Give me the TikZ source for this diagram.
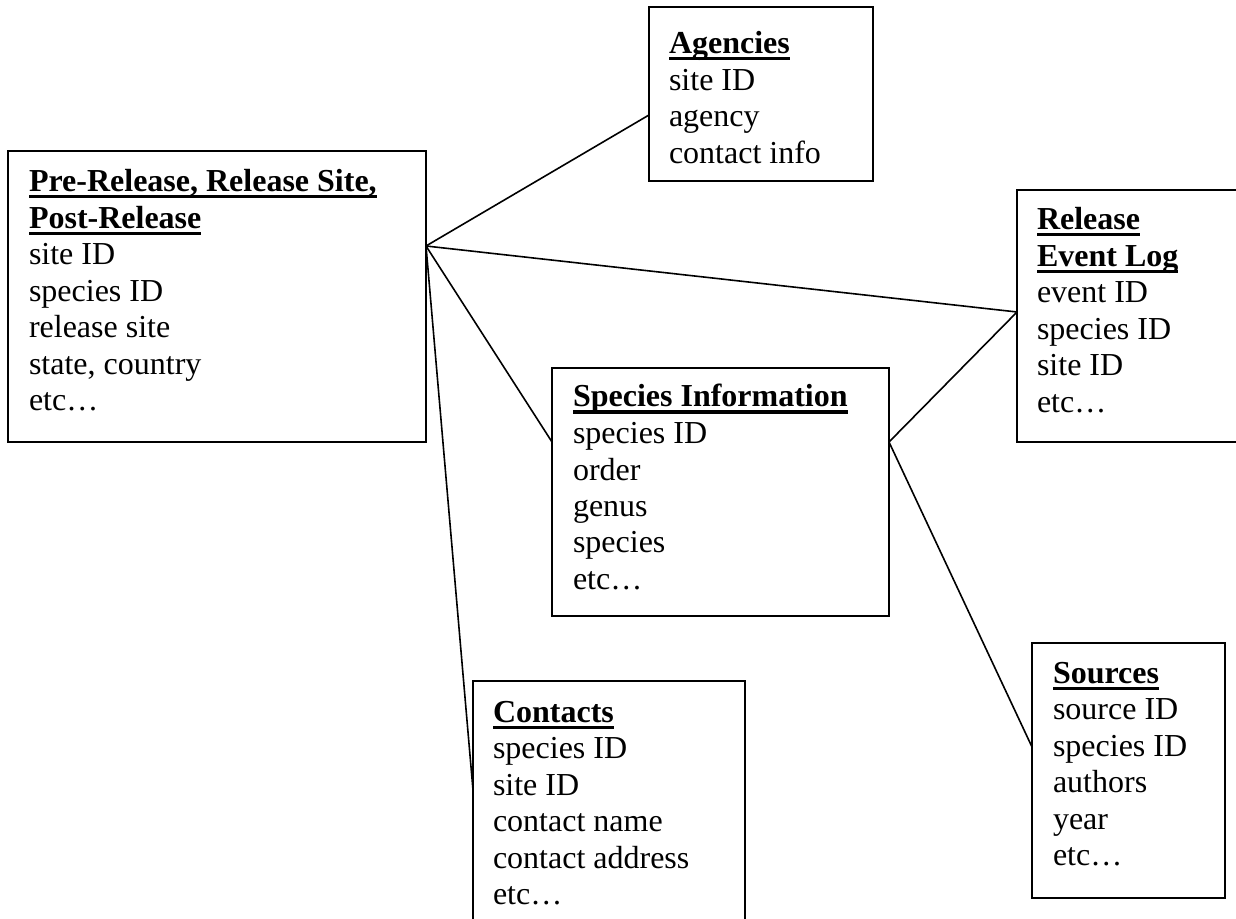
\documentclass[tikz,border=0pt]{standalone}
\usepackage{fontspec}
\setmainfont{Liberation Serif}
\usetikzlibrary{calc}
\newcommand\ulbf[1]{\setbox0\hbox{\bfseries #1}\rlap{\vrule height -1.75pt depth 3.25pt width \wd0}\box0}
\tikzset{
  box/.style={draw, line width=1pt, inner sep=0pt, outer sep=0pt, anchor=north west},
  txt/.style={anchor=base west, inner sep=0pt, outer sep=0pt, align=left, font=\fontsize{16pt}{18.25pt}\selectfont},
  link/.style={line width=0.8pt}
}
\begin{document}
\begin{tikzpicture}[x=0.5pt,y=-0.5pt]
\useasboundingbox (0,0) rectangle (1236,919);
\fill[white] (0,0) rectangle (1236,919);
% boxes
\node[box, minimum width=209pt, minimum height=145.5pt] (pre) at (8,151) {};
\node[box, minimum width=112pt, minimum height=87pt] (ag) at (649,7) {};
\node[box, minimum width=112.5pt, minimum height=126pt] (rel) at (1017,190) {};
\node[box, minimum width=168.5pt, minimum height=124pt] (sp) at (552,368) {};
\node[box, minimum width=136pt, minimum height=127pt] (co) at (473,681) {};
\node[box, minimum width=96.5pt, minimum height=127.5pt] (so) at (1032,643) {};
% texts
\node[txt] (preT) at (29,192) {\vtop{\hbox{\ulbf{Pre-Release, Release Site,}}\hbox{\ulbf{Post-Release}}\hbox{site ID}\hbox{species ID}\hbox{release site}\hbox{state, country}\hbox{etc…}}};
\node[txt] (agT) at (669,54) {\vtop{\hbox{\ulbf{Agencies}}\hbox{site ID}\hbox{agency}\hbox{contact info}}};
\node[txt] (relT) at (1037,230) {\vtop{\hbox{\ulbf{Release}}\hbox{\ulbf{Event Log}}\hbox{event ID}\hbox{species ID}\hbox{site ID}\hbox{etc…}}};
\node[txt] (spT) at (573,407) {\vtop{\hbox{\ulbf{Species Information}}\hbox{species ID}\hbox{order}\hbox{genus}\hbox{species}\hbox{etc…}}};
\node[txt] (coT) at (493,722) {\vtop{\hbox{\ulbf{Contacts}}\hbox{species ID}\hbox{site ID}\hbox{contact name}\hbox{contact address}\hbox{etc…}}};
\node[txt] (soT) at (1053,683) {\vtop{\hbox{\ulbf{Sources}}\hbox{source ID}\hbox{species ID}\hbox{authors}\hbox{year}\hbox{etc…}}};
% connection points
\coordinate (P0) at ($(pre.north east)+(0,95)$);
\coordinate (A1) at ($(ag.north west)+(0,108)$);
\coordinate (R1) at ($(rel.north west)+(0,122)$);
\coordinate (S1) at ($(sp.north west)+(0,74)$);
\coordinate (S2) at ($(sp.north east)+(0,74)$);
\coordinate (C1) at ($(co.north west)+(0,109)$);
\coordinate (Q1) at ($(so.north west)+(0,104)$);
% connectors
\draw[link] (P0) -- (A1);
\draw[link] (P0) -- (R1);
\draw[link] (P0) -- (S1);
\draw[link] (P0) -- (C1);
\draw[link] (S2) -- (R1);
\draw[link] (S2) -- (Q1);
\end{tikzpicture}
\end{document}
